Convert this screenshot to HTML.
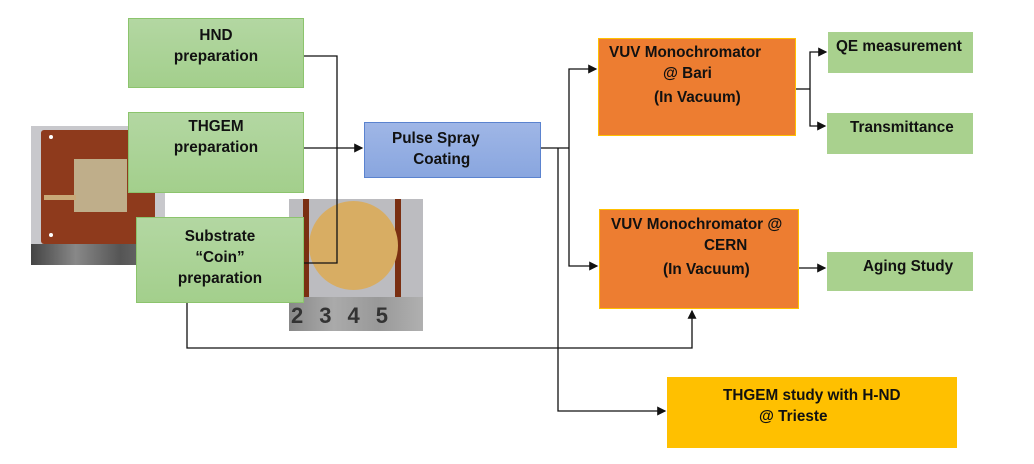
<!DOCTYPE html>
<html><head><meta charset="utf-8"><style>
body{margin:0;width:1034px;height:464px;background:#fff;position:relative;overflow:hidden;font-family:"Liberation Sans",sans-serif;}
.b{position:absolute;box-sizing:border-box;font-weight:bold;font-size:15.3px;color:#111;line-height:21px;}
.g{background:linear-gradient(#b3d7a2,#a3cf8c);border:1px solid #8cc46d;text-align:center;}
.gf{background:#a9d18e;}
.o{background:#ed7d31;border:1.5px solid #ffc000;}
</style></head><body>
<div style="position:absolute;left:31px;top:126px;width:134px;height:139px;background:#c8c8cc;">
 <div style="position:absolute;left:0;top:118px;width:134px;height:21px;background:linear-gradient(90deg,#444,#888,#555,#777);"></div>
 <div style="position:absolute;left:10px;top:4px;width:114px;height:114px;background:#8e3a1c;border-radius:3px;"></div>
 <div style="position:absolute;left:43px;top:33px;width:53px;height:53px;background:#bfae8a;"></div>
 <div style="position:absolute;left:13px;top:69px;width:32px;height:5px;background:#c9a978;"></div>
 <div style="position:absolute;left:18px;top:9px;width:4px;height:4px;border-radius:50%;background:#fff;"></div>
 <div style="position:absolute;left:18px;top:107px;width:4px;height:4px;border-radius:50%;background:#fff;"></div>
</div>
<div style="position:absolute;left:289px;top:199px;width:134px;height:132px;background:#bcbcc0;">
 <div style="position:absolute;left:14px;top:0;width:6px;height:100px;background:#7a2f12;"></div>
 <div style="position:absolute;left:106px;top:0;width:6px;height:100px;background:#7a2f12;"></div>
 <div style="position:absolute;left:20px;top:2px;width:89px;height:89px;border-radius:50%;background:#d8ad63;"></div>
 <div style="position:absolute;left:0;top:98px;width:134px;height:34px;background:linear-gradient(90deg,#888,#aaa,#999,#b0b0b0);font:bold 22px 'Liberation Sans';color:#333;letter-spacing:16px;padding:6px 0 0 2px;box-sizing:border-box;">2345</div>
</div>
<div class="b g" style="left:128px;top:18px;width:176px;height:70px;padding-top:6px;">HND<br>preparation</div>
<div class="b g" style="left:128px;top:112px;width:176px;height:81px;padding-top:3px;">THGEM<br>preparation</div>
<div class="b g" style="left:136px;top:217px;width:168px;height:86px;padding-top:8px;">Substrate<br>“Coin”<br>preparation</div>
<div class="b" style="left:364px;top:122px;width:177px;height:56px;background:linear-gradient(#9fb6e6,#89a6df);border:1px solid #5b83cf;padding:5px 0 0 27px;">Pulse Spray<br>&nbsp;&nbsp;&nbsp;&nbsp;&nbsp;Coating</div>
<div class="b o" style="left:598px;top:38px;width:198px;height:98px;padding:3px 0 0 10px;">VUV Monochromator<br><span style="padding-left:54px">@ Bari</span><br><span style="padding-left:45px;line-height:28px">(In Vacuum)</span></div>
<div class="b o" style="left:599px;top:209px;width:200px;height:100px;padding:4px 0 0 11px;">VUV Monochromator @<br><span style="padding-left:93px">CERN</span><br><span style="padding-left:52px;line-height:28px">(In Vacuum)</span></div>
<div class="b gf" style="left:828px;top:32px;width:145px;height:41px;padding:4px 0 0 8px;">QE measurement</div>
<div class="b gf" style="left:827px;top:113px;width:146px;height:41px;padding:4px 0 0 23px;">Transmittance</div>
<div class="b gf" style="left:827px;top:252px;width:146px;height:39px;padding:4px 0 0 36px;">Aging Study</div>
<div class="b" style="left:667px;top:377px;width:290px;height:71px;background:#ffc000;padding:8px 0 0 56px;">THGEM study with H-ND<br><span style="padding-left:36px">@ Trieste</span></div>
<svg width="1034" height="464" style="position:absolute;left:0;top:0" fill="none" stroke="#111" stroke-width="1.3">
<defs><marker id="a" markerWidth="7" markerHeight="7" refX="6" refY="3.5" orient="auto"><path d="M0,0L7,3.5L0,7z" fill="#111" stroke="none"/></marker></defs>
<path d="M304,56H337V263H304"/>
<path d="M304,148H362" marker-end="url(#a)"/>
<path d="M541,148H569"/>
<path d="M569,148V69H596" marker-end="url(#a)"/>
<path d="M569,148V266H597" marker-end="url(#a)"/>
<path d="M558,148V411H665" marker-end="url(#a)"/>
<path d="M187,303V348H692V311" marker-end="url(#a)"/>
<path d="M796,89H810"/>
<path d="M810,89V52H826" marker-end="url(#a)"/>
<path d="M810,89V126H825" marker-end="url(#a)"/>
<path d="M799,268H825" marker-end="url(#a)"/>
</svg>
</body></html>
